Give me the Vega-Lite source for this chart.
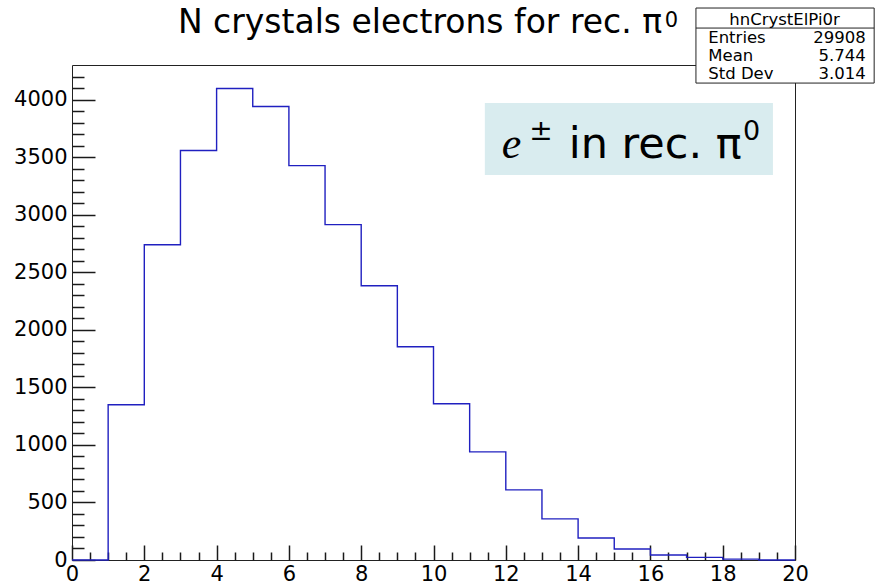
{
  "$schema": "https://vega.github.io/schema/vega-lite/v6.json",
  "width": 723,
  "height": 495,
  "autosize": {"type": "none"},
  "padding": {"left": 72, "top": 65, "right": 82, "bottom": 22},
  "background": "white",
  "config": {
    "view": {"stroke": "#222", "strokeWidth": 1},
    "axis": {"labelFont": "DejaVu Sans", "labelFontSize": 21, "labelColor": "#000", "grid": false, "title": null, "labelFlush": false, "labelOverlap": false}
  },
  "datasets": {
    "hist": [
      {"lo": 0, "n": 0}, {"lo": 1, "n": 1348}, {"lo": 2, "n": 2739}, {"lo": 3, "n": 3557}, {"lo": 4, "n": 4096},
      {"lo": 5, "n": 3939}, {"lo": 6, "n": 3426}, {"lo": 7, "n": 2913}, {"lo": 8, "n": 2383}, {"lo": 9, "n": 1852},
      {"lo": 10, "n": 1357}, {"lo": 11, "n": 939}, {"lo": 12, "n": 609}, {"lo": 13, "n": 357}, {"lo": 14, "n": 191},
      {"lo": 15, "n": 96}, {"lo": 16, "n": 43}, {"lo": 17, "n": 23}, {"lo": 18, "n": 8}, {"lo": 19, "n": 0}, {"lo": 20, "n": 0}
    ]
  },
  "layer": [
    {
      "layer": [
        {
          "data": {"values": [{}]},
          "mark": {"type": "rect", "fill": "#d9ecef", "stroke": null},
          "encoding": {
            "x": {"datum": 11.42, "type": "quantitative", "scale": {"domain": [0, 20], "nice": false, "zero": false},
              "axis": {"orient": "bottom", "values": [0.5,1,1.5,2.5,3,3.5,4.5,5,5.5,6.5,7,7.5,8.5,9,9.5,10.5,11,11.5,12.5,13,13.5,14.5,15,15.5,16.5,17,17.5,18.5,19,19.5], "ticks": true, "tickColor": "#1a1a1a", "tickWidth": 1.5, "offset": -8, "tickSize": 8, "labels": false, "domain": false, "title": null}},
            "x2": {"datum": 19.39},
            "y": {"datum": 3970, "type": "quantitative", "scale": {"domain": [0, 4300], "nice": false, "zero": false},
              "axis": {"orient": "left", "values": [100,200,300,400,600,700,800,900,1100,1200,1300,1400,1600,1700,1800,1900,2100,2200,2300,2400,2600,2700,2800,2900,3100,3200,3300,3400,3600,3700,3800,3900,4100,4200], "ticks": true, "tickColor": "#1a1a1a", "tickWidth": 1.5, "offset": -12, "tickSize": 12, "labels": false, "domain": false, "title": null}},
            "y2": {"datum": 3344}
          }
        },
        {
          "data": {"name": "hist"},
          "mark": {"type": "line", "interpolate": "step-after", "color": "#2020c0", "strokeWidth": 1.4},
          "encoding": {
            "x": {"field": "lo", "type": "quantitative", "scale": {"domain": [0, 20], "nice": false, "zero": false},
              "axis": {"orient": "bottom", "values": [0,2,4,6,8,10,12,14,16,18,20], "format": "d", "ticks": true, "tickColor": "#1a1a1a", "tickWidth": 1.5, "offset": -15, "tickSize": 15, "labelPadding": 3, "domain": false, "title": null}},
            "y": {"field": "n", "type": "quantitative", "scale": {"domain": [0, 4300], "nice": false, "zero": false},
              "axis": {"orient": "left", "values": [0,500,1000,1500,2000,2500,3000,3500,4000], "format": "d", "ticks": true, "tickColor": "#1a1a1a", "tickWidth": 1.5, "offset": -23, "tickSize": 23, "labelPadding": 5, "domain": false, "title": null}}
          }
        }
      ],
      "resolve": {"axis": {"x": "independent", "y": "independent"}}
    },
    {
      "layer": [
        {
          "data": {"values": [{}]},
          "mark": {"type": "rect", "fill": "white", "stroke": "#222", "strokeWidth": 1},
          "encoding": {
            "x": {"datum": 17.26, "type": "quantitative", "scale": {"domain": [0, 20]}, "axis": null},
            "x2": {"datum": 22.19},
            "y": {"datum": 4795, "type": "quantitative", "scale": {"domain": [0, 4300]}, "axis": null},
            "y2": {"datum": 4143}
          }
        },
        {
          "data": {"values": [{}]},
          "mark": {"type": "rule", "stroke": "#222", "strokeWidth": 1},
          "encoding": {
            "x": {"datum": 17.26, "type": "quantitative", "scale": {"domain": [0, 20]}, "axis": null},
            "x2": {"datum": 22.19},
            "y": {"datum": 4621, "type": "quantitative", "scale": {"domain": [0, 4300]}, "axis": null}
          }
        },
        {
          "data": {"values": [{}]},
          "mark": {"type": "text", "text": "hnCrystElPi0r", "font": "DejaVu Sans", "fontSize": 16.5, "align": "center", "baseline": "middle", "color": "#000"},
          "encoding": {
            "x": {"datum": 19.71, "type": "quantitative", "scale": {"domain": [0, 20]}, "axis": null},
            "y": {"datum": 4691, "type": "quantitative", "scale": {"domain": [0, 4300]}, "axis": null}
          }
        },
        {
          "data": {"values": [{}]},
          "mark": {"type": "text", "text": "Entries", "font": "DejaVu Sans", "fontSize": 16.5, "align": "left", "baseline": "middle", "color": "#000"},
          "encoding": {
            "x": {"datum": 17.6, "type": "quantitative", "scale": {"domain": [0, 20]}, "axis": null},
            "y": {"datum": 4534, "type": "quantitative", "scale": {"domain": [0, 4300]}, "axis": null}
          }
        },
        {
          "data": {"values": [{}]},
          "mark": {"type": "text", "text": "Mean", "font": "DejaVu Sans", "fontSize": 16.5, "align": "left", "baseline": "middle", "color": "#000"},
          "encoding": {
            "x": {"datum": 17.6, "type": "quantitative", "scale": {"domain": [0, 20]}, "axis": null},
            "y": {"datum": 4378, "type": "quantitative", "scale": {"domain": [0, 4300]}, "axis": null}
          }
        },
        {
          "data": {"values": [{}]},
          "mark": {"type": "text", "text": "Std Dev", "font": "DejaVu Sans", "fontSize": 16.5, "align": "left", "baseline": "middle", "color": "#000"},
          "encoding": {
            "x": {"datum": 17.6, "type": "quantitative", "scale": {"domain": [0, 20]}, "axis": null},
            "y": {"datum": 4221, "type": "quantitative", "scale": {"domain": [0, 4300]}, "axis": null}
          }
        },
        {
          "data": {"values": [{}]},
          "mark": {"type": "text", "text": "29908", "font": "DejaVu Sans", "fontSize": 16.5, "align": "right", "baseline": "middle", "color": "#000"},
          "encoding": {
            "x": {"datum": 21.96, "type": "quantitative", "scale": {"domain": [0, 20]}, "axis": null},
            "y": {"datum": 4534, "type": "quantitative", "scale": {"domain": [0, 4300]}, "axis": null}
          }
        },
        {
          "data": {"values": [{}]},
          "mark": {"type": "text", "text": "5.744", "font": "DejaVu Sans", "fontSize": 16.5, "align": "right", "baseline": "middle", "color": "#000"},
          "encoding": {
            "x": {"datum": 21.96, "type": "quantitative", "scale": {"domain": [0, 20]}, "axis": null},
            "y": {"datum": 4378, "type": "quantitative", "scale": {"domain": [0, 4300]}, "axis": null}
          }
        },
        {
          "data": {"values": [{}]},
          "mark": {"type": "text", "text": "3.014", "font": "DejaVu Sans", "fontSize": 16.5, "align": "right", "baseline": "middle", "color": "#000"},
          "encoding": {
            "x": {"datum": 21.96, "type": "quantitative", "scale": {"domain": [0, 20]}, "axis": null},
            "y": {"datum": 4221, "type": "quantitative", "scale": {"domain": [0, 4300]}, "axis": null}
          }
        },
        {
          "data": {"values": [{}]},
          "mark": {"type": "text", "text": "N crystals electrons for rec. π", "font": "DejaVu Sans", "fontSize": 33, "align": "left", "baseline": "alphabetic", "color": "#000"},
          "encoding": {
            "x": {"datum": 2.93, "type": "quantitative", "scale": {"domain": [0, 20]}, "axis": null},
            "y": {"datum": 4578, "type": "quantitative", "scale": {"domain": [0, 4300]}, "axis": null}
          }
        },
        {
          "data": {"values": [{}]},
          "mark": {"type": "text", "text": "0", "font": "DejaVu Sans", "fontSize": 21, "align": "left", "baseline": "alphabetic", "color": "#000"},
          "encoding": {
            "x": {"datum": 16.4, "type": "quantitative", "scale": {"domain": [0, 20]}, "axis": null},
            "y": {"datum": 4630, "type": "quantitative", "scale": {"domain": [0, 4300]}, "axis": null}
          }
        },
        {
          "data": {"values": [{}]},
          "mark": {"type": "text", "text": "e", "font": "Liberation Serif", "fontStyle": "italic", "fontSize": 44, "align": "left", "baseline": "alphabetic", "color": "#000"},
          "encoding": {
            "x": {"datum": 11.89, "type": "quantitative", "scale": {"domain": [0, 20]}, "axis": null},
            "y": {"datum": 3492, "type": "quantitative", "scale": {"domain": [0, 4300]}, "axis": null}
          }
        },
        {
          "data": {"values": [{}]},
          "mark": {"type": "text", "text": "±", "font": "DejaVu Sans", "fontSize": 28, "align": "center", "baseline": "middle", "color": "#000"},
          "encoding": {
            "x": {"datum": 12.97, "type": "quantitative", "scale": {"domain": [0, 20]}, "axis": null},
            "y": {"datum": 3718, "type": "quantitative", "scale": {"domain": [0, 4300]}, "axis": null}
          }
        },
        {
          "data": {"values": [{}]},
          "mark": {"type": "text", "text": "in rec. π", "font": "DejaVu Sans", "fontSize": 43, "align": "left", "baseline": "alphabetic", "color": "#000"},
          "encoding": {
            "x": {"datum": 13.74, "type": "quantitative", "scale": {"domain": [0, 20]}, "axis": null},
            "y": {"datum": 3492, "type": "quantitative", "scale": {"domain": [0, 4300]}, "axis": null}
          }
        },
        {
          "data": {"values": [{}]},
          "mark": {"type": "text", "text": "0", "font": "DejaVu Sans", "fontSize": 27, "align": "left", "baseline": "alphabetic", "color": "#000"},
          "encoding": {
            "x": {"datum": 18.56, "type": "quantitative", "scale": {"domain": [0, 20]}, "axis": null},
            "y": {"datum": 3648, "type": "quantitative", "scale": {"domain": [0, 4300]}, "axis": null}
          }
        }
      ]
    }
  ]
}
